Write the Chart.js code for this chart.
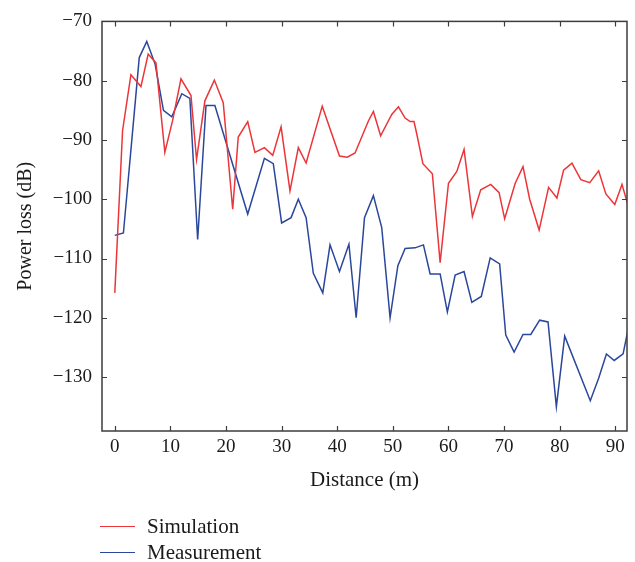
<!DOCTYPE html>
<html>
<head>
<meta charset="utf-8">
<script src="https://cdn.jsdelivr.net/npm/chart.js@4.4.1/dist/chart.umd.min.js"></script>
<style>
html, body { margin: 0; padding: 0; background: #fff; }
#wrap { position: relative; width: 635px; height: 562px; }
#legend { position: absolute; left: 100px; top: 513px; font-family: "Liberation Serif", serif; font-size: 21px; color: #1a1a1a; }
.item { height: 26px; display: flex; align-items: center; }
.swatch { width: 35px; height: 0; border-top: 1.5px solid; margin-right: 12px; }
</style>
</head>
<body>
<div id="wrap">
<canvas id="lossChart" width="635" height="562"></canvas>
<div id="legend"></div>
</div>
<script>
// values
var simDistance = [0, 1.4, 2.9, 4.7, 6.0, 7.4, 9.0, 10.4, 11.9, 13.7, 14.7, 16.2, 17.9, 19.5, 21.2, 22.2, 23.9, 25.2, 26.9, 28.4, 29.9,
    31.5, 33.0, 34.4, 37.3, 40.4, 41.8, 43.2, 45.6, 46.5, 47.8, 49.8, 51.0, 52.2, 53.1, 53.8, 54.3, 55.4, 57.1, 58.5, 60.0,
    61.5, 62.8, 64.3, 65.8, 67.6, 69.1, 70.1, 72.0, 73.4, 74.6, 76.3, 78.0, 79.5, 80.7, 82.2, 83.8, 85.4, 87.0, 88.3, 89.9, 91.2, 92.7];
var simLoss = [-115.8, -88.4, -79.0, -81.0, -75.5, -77.0, -92.1, -86.7, -79.7, -82.5, -93.3, -83.4, -79.9, -83.7, -101.7, -89.5, -86.9, -92.1, -91.3, -92.6, -87.8,
    -98.6, -91.3, -93.9, -84.3, -92.7, -92.9, -92.2, -86.8, -85.2, -89.3, -85.7, -84.4, -86.3, -86.9, -86.9, -89.0, -94.0, -95.7, -110.7, -97.3,
    -95.3, -91.6, -102.9, -98.4, -97.5, -98.9, -103.3, -97.3, -94.5, -100.0, -105.2, -98.0, -99.8, -95.1, -93.9, -96.7, -97.2, -95.2, -99.1, -100.9, -97.5, -102.4];

var measDistance = [0, 1.55, 4.4, 5.75, 7.25, 8.75, 10.25, 12.05, 13.5, 14.9, 16.4, 18.0, 23.9, 26.9, 28.5, 30.0, 31.7, 33.0, 34.4, 35.7,
    37.4, 38.7, 40.4, 42.1, 43.4, 44.9, 46.5, 48.0, 49.5, 50.9, 52.2, 54.0, 55.5, 56.7, 58.5, 59.8, 61.2, 62.8, 64.2, 65.9,
    67.5, 69.2, 70.3, 71.8, 73.4, 74.8, 76.4, 77.9, 79.4, 80.9, 85.5, 87.0, 88.4, 89.8, 91.4, 92.7];
var measLoss = [-106.1, -105.7, -76.1, -73.4, -77.2, -85.0, -86.1, -82.2, -83.0, -106.8, -84.2, -84.2, -102.5, -93.1, -94.0, -104.0, -103.1, -100.0, -103.1, -112.5,
    -115.8, -107.7, -112.2, -107.6, -120.0, -103.1, -99.4, -104.8, -120.0, -111.2, -108.3, -108.2, -107.7, -112.6, -112.6, -119.0, -112.8, -112.2, -117.4, -116.4,
    -109.9, -110.9, -122.9, -125.8, -122.8, -122.8, -120.4, -120.7, -135.0, -123.1, -134.0, -130.2, -126.1, -127.2, -126.1, -120.1];

var distanceTicks = [0, 10, 20, 30, 40, 50, 60, 70, 80, 90];
var lossTicks = [-70, -80, -90, -100, -110, -120, -130];

function toPoints(xs, ys) {
    return xs.map(function(x, i) { return { x: x, y: ys[i] }; });
}

var serif = '"Liberation Serif", "Times New Roman", serif';

// box around the plot with inward ticks on every side
var framePlugin = {
    id: 'frame',
    afterDatasetsDraw: function(chart) {
        var ctx = chart.ctx, a = chart.chartArea;
        var xs = chart.scales.x, ys = chart.scales.y;
        ctx.save();
        ctx.strokeStyle = '#3c3c3c';
        ctx.lineWidth = 1.5;
        ctx.strokeRect(a.left, a.top, a.right - a.left, a.bottom - a.top);
        ctx.lineWidth = 1.2;
        ctx.beginPath();
        distanceTicks.forEach(function(v) {
            var px = Math.round(xs.getPixelForValue(v)) + 0.5;
            ctx.moveTo(px, a.bottom); ctx.lineTo(px, a.bottom - 5);
            ctx.moveTo(px, a.top); ctx.lineTo(px, a.top + 5);
        });
        lossTicks.forEach(function(v) {
            var py = Math.round(ys.getPixelForValue(v)) + 0.5;
            ctx.moveTo(a.left, py); ctx.lineTo(a.left + 5, py);
            ctx.moveTo(a.right, py); ctx.lineTo(a.right - 5, py);
        });
        ctx.stroke();
        ctx.restore();
    }
};

var ctx1 = document.getElementById('lossChart').getContext('2d');
var lossChart = new Chart(ctx1, {
    type: 'line',
    data: {
        datasets: [{
            label: 'Simulation',
            data: toPoints(simDistance, simLoss),
            borderColor: '#ec3538',
            borderWidth: 1.5,
            pointRadius: 0,
            tension: 0
        }, {
            label: 'Measurement',
            data: toPoints(measDistance, measLoss),
            borderColor: '#2a479c',
            borderWidth: 1.5,
            pointRadius: 0,
            tension: 0
        }]
    },
    options: {
        responsive: false,
        animation: false,
        layout: { padding: { left: 0, top: 16, right: 8, bottom: 69 } },
        plugins: {
            legend: { display: false },
            tooltip: { enabled: false }
        },
        scales: {
            x: {
                type: 'linear',
                min: -2.3,
                max: 92.1,
                afterBuildTicks: function(scale) {
                    scale.ticks = distanceTicks.map(function(v) { return { value: v }; });
                },
                afterFit: function(scale) { scale.height = 62; },
                grid: { display: false, drawTicks: false },
                border: { display: false },
                ticks: {
                    autoSkip: false,
                    maxRotation: 0,
                    padding: 5,
                    color: '#1a1a1a',
                    font: { family: serif, size: 19 }
                },
                title: {
                    display: true,
                    text: 'Distance (m)',
                    color: '#1a1a1a',
                    padding: 0,
                    font: { family: serif, size: 21 }
                }
            },
            y: {
                type: 'linear',
                min: -139.1,
                max: -70,
                afterBuildTicks: function(scale) {
                    scale.ticks = lossTicks.map(function(v) { return { value: v }; });
                },
                afterFit: function(scale) { scale.width = 102; },
                grid: { display: false, drawTicks: false },
                border: { display: false },
                ticks: {
                    padding: 10,
                    color: '#1a1a1a',
                    font: { family: serif, size: 19 },
                    callback: function(value) { return String(value).replace('-', '\u2212'); }
                },
                title: {
                    display: true,
                    text: 'Power loss (dB)',
                    color: '#1a1a1a',
                    padding: { top: 14, bottom: 0 },
                    font: { family: serif, size: 20 }
                }
            }
        }
    },
    plugins: [framePlugin]
});

// legend below the chart, built from the datasets
var legend = document.getElementById('legend');
lossChart.data.datasets.forEach(function(ds) {
    var item = document.createElement('div');
    item.className = 'item';
    var sw = document.createElement('span');
    sw.className = 'swatch';
    sw.style.borderColor = ds.borderColor;
    var txt = document.createElement('span');
    txt.textContent = ds.label;
    item.appendChild(sw);
    item.appendChild(txt);
    legend.appendChild(item);
});
</script>
</body>
</html>
